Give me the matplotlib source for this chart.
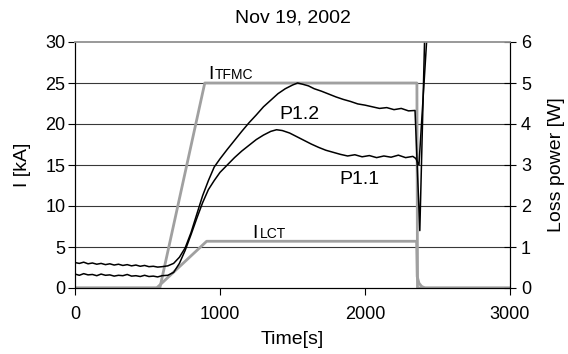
import matplotlib
matplotlib.use("Agg")
import matplotlib.pyplot as plt

plt.rcParams["font.family"] = ["Liberation Sans", "DejaVu Sans"]

# coil currents (kA, left axis)
t_tfmc = [0, 585, 895, 2358, 2362, 3000]
i_tfmc = [0, 0, 25, 25, 0, 0]
t_lct = [0, 563, 908, 2356, 2360, 2372, 2390, 2414, 3000]
i_lct = [0, 0, 5.7, 5.7, 1.4, 0.6, 0.2, 0, 0]

# loss power (W, right axis)
t_p12 = [0, 30, 60, 90, 120, 150, 180, 210, 240, 270, 300, 330, 360, 390,
         420, 450, 480, 510, 540, 570, 600, 640, 680, 720, 760, 800, 840,
         880, 920, 960, 1000, 1050, 1100, 1150, 1200, 1250, 1300, 1350,
         1400, 1450, 1500, 1535, 1570, 1610, 1650, 1700, 1750, 1800, 1850,
         1900, 1950, 2000, 2050, 2100, 2150, 2200, 2250, 2300, 2345, 2378,
         2412, 2430]
p12 = [0.62, 0.60, 0.63, 0.59, 0.61, 0.58, 0.60, 0.57, 0.59, 0.56, 0.58,
       0.55, 0.57, 0.54, 0.56, 0.53, 0.55, 0.52, 0.53, 0.51, 0.52, 0.54,
       0.60, 0.75, 0.98, 1.35, 1.80, 2.25, 2.62, 2.95, 3.15, 3.38, 3.60,
       3.82, 4.03, 4.22, 4.42, 4.58, 4.74, 4.86, 4.95, 5.00, 4.97, 4.93,
       4.86, 4.80, 4.73, 4.66, 4.60, 4.55, 4.49, 4.46, 4.42, 4.38, 4.40,
       4.35, 4.38, 4.32, 4.33, 1.40, 6.2, 6.6]

t_p11 = [0, 30, 60, 90, 120, 150, 180, 210, 240, 270, 300, 330, 360, 390,
         420, 450, 480, 510, 540, 570, 600, 640, 680, 720, 760, 800, 840,
         880, 920, 960, 1000, 1050, 1100, 1150, 1200, 1250, 1300, 1350,
         1390, 1430, 1480, 1530, 1580, 1630, 1680, 1730, 1780, 1830, 1880,
         1930, 1980, 2030, 2080, 2130, 2180, 2230, 2280, 2330, 2350, 2372,
         2430, 2450]
p11 = [0.34, 0.31, 0.35, 0.32, 0.33, 0.30, 0.34, 0.31, 0.32, 0.29, 0.31,
       0.30, 0.33, 0.29, 0.30, 0.28, 0.31, 0.28, 0.29, 0.27, 0.30, 0.31,
       0.38, 0.60, 0.92, 1.30, 1.70, 2.08, 2.40, 2.62, 2.82, 3.00, 3.18,
       3.34, 3.48, 3.62, 3.73, 3.82, 3.86, 3.84, 3.78, 3.69, 3.60, 3.51,
       3.43, 3.36, 3.31, 3.26, 3.22, 3.25, 3.20, 3.23, 3.18, 3.22, 3.19,
       3.24, 3.18, 3.21, 3.16, 3.00, 6.3, 6.6]

GRAY = "#a0a0a0"

fig = plt.figure(figsize=(5.68, 3.54), dpi=100)
ax = fig.add_axes([75 / 568, 66 / 354, 435 / 568, 246 / 354])
ax2 = ax.twinx()

for y in range(5, 30, 5):
    ax.axhline(y, color="#383838", lw=0.8, zorder=1)

ax.plot(t_tfmc, i_tfmc, color=GRAY, lw=2.0, zorder=2)
ax.plot(t_lct, i_lct, color=GRAY, lw=2.0, zorder=2)
ax2.plot(t_p12, p12, color="black", lw=1.1)
ax2.plot(t_p11, p11, color="black", lw=1.1)

ax.set_xlim(0, 3000)
ax.set_ylim(0, 30)
ax2.set_ylim(0, 6)
ax.set_xticks([0, 1000, 2000, 3000])
ax.set_yticks(range(0, 31, 5))
ax2.set_yticks(range(0, 7))

for a in (ax, ax2):
    a.spines["top"].set_color("#999999")
    a.spines["top"].set_linewidth(1.2)
ax.tick_params(axis="both", labelsize=13, direction="out", length=5,
               width=0.8, pad=2)
ax.tick_params(axis="x", pad=8)
ax2.tick_params(axis="y", labelsize=13, direction="inout", length=8,
                width=0.8, pad=4)

ax.set_xlabel("Time[s]", fontsize=14, labelpad=6)
ax.set_ylabel("I [kA]", fontsize=14, labelpad=10)
ax2.set_ylabel("Loss power [W]", fontsize=14, labelpad=12)
ax.set_title("Nov 19, 2002", fontsize=14, pad=14)

ax.text(919, 25.5, "I", fontsize=14, va="baseline")
ax.annotate("TFMC", xy=(919, 25.5), xytext=(5, 0), textcoords="offset points",
            fontsize=10, va="baseline")
ax.text(1225, 6.05, "I", fontsize=14, va="baseline")
ax.annotate("LCT", xy=(1225, 6.05), xytext=(5, 0), textcoords="offset points",
            fontsize=10, va="baseline")
ax.text(1545, 21.2, "P1.2", fontsize=14, ha="center", va="center")
ax.text(1960, 13.2, "P1.1", fontsize=14, ha="center", va="center")

fig.savefig("out.png", dpi=100)
